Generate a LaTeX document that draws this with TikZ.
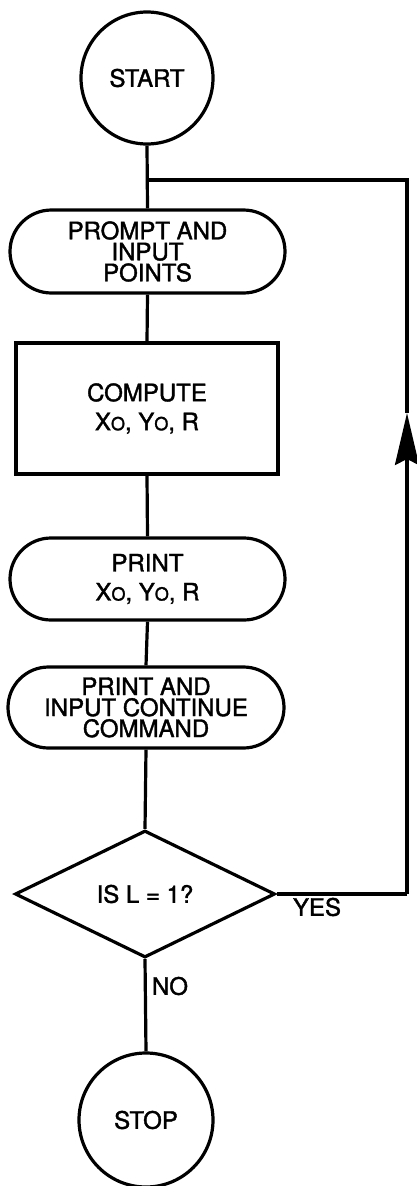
\documentclass[tikz,border=0pt]{standalone}
\usepackage{fontspec}
\setmainfont{TeX Gyre Heros}[BoldFont=TeX Gyre Heros, BoldFeatures={FakeBold=1.6}]
\usetikzlibrary{shapes.geometric,shapes.misc,arrows.meta}
\newcommand{\smo}{{\fontsize{18}{18}\selectfont\bfseries O}}
\begin{document}
\begin{tikzpicture}[x=1pt,y=-1pt,
  every node/.style={font=\fontsize{24}{21}\selectfont\bfseries, align=center, inner sep=0pt},
  ln/.style={line width=3.2pt},
  term/.style={circle, draw, line width=3.2pt, minimum size=132pt},
  stad/.style={rounded rectangle, draw, line width=3.2pt},
  procbox/.style={rectangle, draw, line width=3.2pt},
  decbox/.style={diamond, draw, line width=3.2pt, minimum width=260pt, minimum height=127pt},
  lbl/.style={font=\fontsize{24}{24}\selectfont\bfseries}
]
\useasboundingbox (0,0) rectangle (417,1186);
\node[term] (start) at (147,78) {START};
\node[stad, minimum width=275pt, minimum height=83pt] (prompt) at (147.5,251.5) {PROMPT AND\\INPUT\\POINTS};
\node[procbox, minimum width=262pt, minimum height=131pt, font=\fontsize{24}{29}\selectfont\bfseries] (compute) at (147,408.5) {COMPUTE\\X\smo, Y\smo, R};
\node[stad, minimum width=275pt, minimum height=82pt, font=\fontsize{24}{29}\selectfont\bfseries] (print) at (147.5,579) {PRINT\\X\smo, Y\smo, R};
\node[stad, minimum width=276pt, minimum height=81pt] (pic) at (146,707.5) {PRINT AND\\INPUT CONTINUE\\COMMAND};
\node[decbox] (dec) at (145,894) {IS L = 1?};
\node[term, minimum size=134pt] (stop) at (146,1120) {STOP};
\node[lbl] (yes) at (317,907) {YES};
\node[lbl] (no) at (170,986) {NO};
\coordinate (br) at (147,180);
\coordinate (rt) at (407,180);
\coordinate (rb) at (407,894);
\coordinate (tip) at (407,413);
\draw[ln] (start.south) -- (prompt.north);
\draw[ln] (prompt.south) -- (compute.north);
\draw[ln] (compute.south) -- (print.north);
\draw[ln] (print.south) -- (pic.north);
\draw[ln] (pic.south) -- (dec.north);
\draw[ln] (dec.south) -- (stop.north);
\draw[ln] (dec.east) -- (rb);
\draw[ln, -{Stealth[length=52pt,width=24pt,inset=6pt]}] (rb) -- (tip);
\draw[ln, line join=miter] (tip) -- (rt) -- (br);
\end{tikzpicture}
\end{document}
